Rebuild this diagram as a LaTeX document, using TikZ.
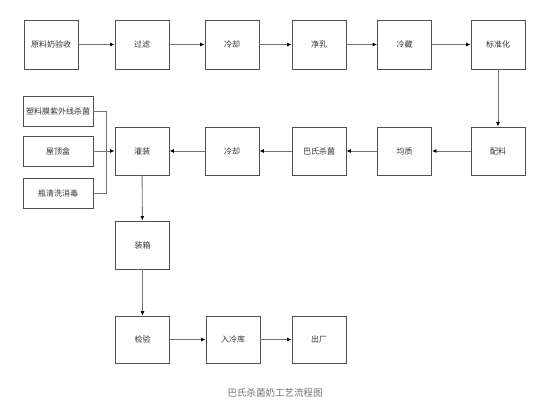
\documentclass[tikz,border=0pt]{standalone}
\usepackage{fontspec}
\setmainfont{Noto Sans CJK SC}
\usetikzlibrary{arrows.meta}
\definecolor{boxline}{HTML}{505050}
\definecolor{txt}{HTML}{333333}
\begin{document}
\begin{tikzpicture}[x=1pt,y=-1pt,
  box/.style={draw=boxline,line width=0.9pt,fill=white,minimum width=54pt,minimum height=49pt,inner sep=0pt,font=\fontsize{8pt}{9pt}\selectfont,text=txt},
  sbox/.style={box,minimum width=70pt,minimum height=30pt},
  conn/.style={draw=boxline!80,line width=0.9pt,-{Latex[length=4.5pt,width=4pt,color=black]}},
  plain/.style={draw=boxline!80,line width=0.9pt}]
\useasboundingbox (0,0) rectangle (554,416);
\fill[white] (0,0) rectangle (554,416);
% row 1
\node[box] (a1) at (51,44.5) {原料奶验收};
\node[box] (a2) at (142,44.5) {过滤};
\node[box] (a3) at (232,44.5) {冷却};
\node[box] (a4) at (319,44.5) {净乳};
\node[box] (a5) at (404.5,44.5) {冷藏};
\node[box] (a6) at (498,44.5) {标准化};
% row 2
\node[box,minimum height=48pt] (b1) at (498,151) {配料};
\node[box,minimum height=48pt] (b2) at (404.5,151) {均质};
\node[box,minimum height=48pt] (b3) at (319,151) {巴氏杀菌};
\node[box,minimum height=48pt] (b4) at (232,151) {冷却};
\node[box,minimum height=48pt] (b5) at (142,151) {灌装};
% side boxes
\node[sbox] (s1) at (58,111) {塑料膜紫外线杀菌};
\node[sbox] (s2) at (58,151) {屋顶盒};
\node[sbox] (s3) at (58,193) {瓶清洗消毒};
\coordinate (j1) at (106,111);
\coordinate (j3) at (106,193);
% column
\node[box,minimum height=48pt] (c1) at (142.5,245) {装箱};
\node[box,minimum height=47pt] (c2) at (142.5,339.5) {检验};
\node[box,minimum height=47pt] (c3) at (233,339.5) {入冷库};
\node[box,minimum height=47pt] (c4) at (319,339.5) {出厂};
% caption
\node[font=\fontsize{9.5pt}{11pt}\selectfont,text=black!55] (cap) at (275,393) {巴氏杀菌奶工艺流程图};
% connectors
\draw[conn] (a1) -- (a2);
\draw[conn] (a2) -- (a3);
\draw[conn] (a3) -- (a4);
\draw[conn] (a4) -- (a5);
\draw[conn] (a5) -- (a6);
\draw[conn] (a6) -- (b1);
\draw[conn] (b1) -- (b2);
\draw[conn] (b2) -- (b3);
\draw[conn] (b3) -- (b4);
\draw[conn] (b4) -- (b5);
\draw[plain] (s1.east) -- (j1) -- (j3) -- (s3.east);
\draw[conn] (s2) -- (b5);
\draw[conn] (b5) -- (c1);
\draw[conn] (c1) -- (c2);
\draw[conn] (c2) -- (c3);
\draw[conn] (c3) -- (c4);
\end{tikzpicture}
\end{document}
